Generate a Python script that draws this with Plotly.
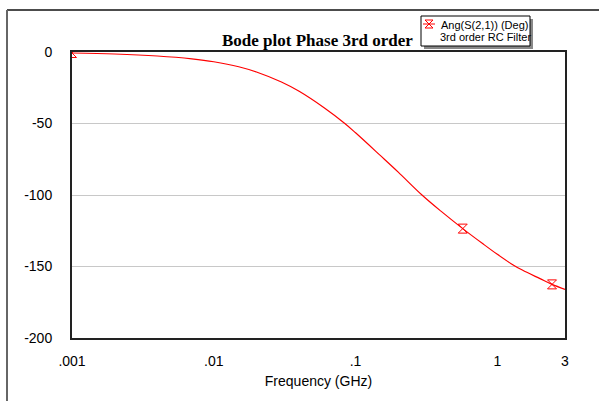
import plotly.graph_objects as go

# Data
freq_ghz = [0.001, 0.002, 0.004, 0.007, 0.01, 0.015, 0.02, 0.03, 0.04, 0.06, 0.084,
            0.1, 0.15, 0.2, 0.294, 0.4, 0.57, 0.8, 1.0, 1.25, 1.5, 2.0, 2.43, 3.0]
phase_deg = [-0.7, -1.4, -2.8, -4.8, -6.8, -10.3, -14, -21, -27.5, -39, -50,
             -56.5, -72.5, -84, -100, -111.3, -123.5, -134.5, -141.5, -148, -152.5, -158.5, -162.5, -166]
marker_freq = [0.001, 0.57, 2.43]
marker_phase = [-0.7, -123.5, -162.5]

x_tickvals = [0.001, 0.01, 0.1, 1, 3]
x_ticktext = [".001", ".01", ".1", "1", "3"]
y_tickvals = [0, -50, -100, -150, -200]
y_ticktext = ["0", "-50", "-100", "-150", "-200"]

title_text = "Bode plot Phase 3rd order"
legend_line1 = "Ang(S(2,1)) (Deg)"
legend_line2 = "3rd order RC Filter"
x_title = "Frequency (GHz)"

W, H = 599, 401
L, R, T, B = 72, 565, 52, 338


def px(x):
    return (x - L) / (R - L)


def py(y):
    return (B - y) / (B - T)


fig = go.Figure()
fig.add_trace(go.Scatter(x=freq_ghz, y=phase_deg, mode="lines",
                         line=dict(color="red", width=1.2, shape="spline"),
                         showlegend=False, hoverinfo="skip"))
fig.add_trace(go.Scatter(x=marker_freq, y=marker_phase, mode="markers",
                         marker=dict(symbol="hourglass-open", size=9,
                                     color="red", line=dict(color="red", width=1)),
                         showlegend=False, hoverinfo="skip"))

font_arial = "Liberation Sans, Arial, sans-serif"

fig.update_layout(
    width=W, height=H,
    margin=dict(l=L, r=W - R, t=T, b=H - B, pad=0),
    paper_bgcolor="white", plot_bgcolor="white",
    font=dict(family=font_arial, size=14, color="black"),
    xaxis=dict(type="log", range=[-3, 0.47712], tickvals=x_tickvals, ticktext=x_ticktext,
               showgrid=False, showline=True, mirror=True, linecolor="#222", linewidth=2,
               ticks="", ticklabelstandoff=9, zeroline=False,
               title=dict(text=x_title, standoff=8, font=dict(size=14))),
    yaxis=dict(range=[-200, 0], tickvals=y_tickvals, ticktext=y_ticktext,
               showgrid=True, gridcolor="#c8c8c8",
               gridwidth=1, showline=True, mirror=True, linecolor="#222", linewidth=2,
               ticks="", ticklabelstandoff=15, zeroline=False),
    showlegend=False,
)

shapes = []
# outer frame lines
shapes.append(dict(type="line", xref="paper", yref="paper", x0=px(7), x1=px(600),
                   y0=py(10), y1=py(10), line=dict(color="#111", width=1.5)))
shapes.append(dict(type="line", xref="paper", yref="paper", x0=px(7), x1=px(7),
                   y0=py(10), y1=py(402), line=dict(color="#666", width=2)))
# legend shadow and box
shapes.append(dict(type="rect", xref="paper", yref="paper", x0=px(424), x1=px(533),
                   y0=py(49), y1=py(19), fillcolor="#888", line=dict(width=0)))
shapes.append(dict(type="rect", xref="paper", yref="paper", x0=px(421), x1=px(530),
                   y0=py(46), y1=py(16), fillcolor="white", line=dict(color="black", width=1)))
# legend symbol (hourglass with line)
cx, cy, hw = 429, 24, 4
sym_path = (f"M {px(cx-hw)},{py(cy-hw)} L {px(cx+hw)},{py(cy-hw)} L {px(cx-hw)},{py(cy+hw)} "
            f"L {px(cx+hw)},{py(cy+hw)} Z")
shapes.append(dict(type="path", xref="paper", yref="paper", path=sym_path,
                   line=dict(color="red", width=1)))
shapes.append(dict(type="line", xref="paper", yref="paper", x0=px(cx-6), x1=px(cx+6),
                   y0=py(cy), y1=py(cy), line=dict(color="red", width=1)))
fig.update_layout(shapes=shapes)

fig.add_annotation(text="<b>" + title_text + "</b>", xref="paper", yref="paper",
                   x=px(317), y=py(40), xanchor="center", yanchor="middle", showarrow=False,
                   font=dict(family="Liberation Serif, Times New Roman, serif", size=17, color="black"))
fig.add_annotation(text=legend_line1, xref="paper", yref="paper",
                   x=px(439), y=py(25), xanchor="left", yanchor="middle", showarrow=False,
                   font=dict(family=font_arial, size=11, color="black"))
fig.add_annotation(text=legend_line2, xref="paper", yref="paper",
                   x=px(438), y=py(37), xanchor="left", yanchor="middle", showarrow=False,
                   font=dict(family=font_arial, size=11, color="black"))

fig.write_html("out.html")
